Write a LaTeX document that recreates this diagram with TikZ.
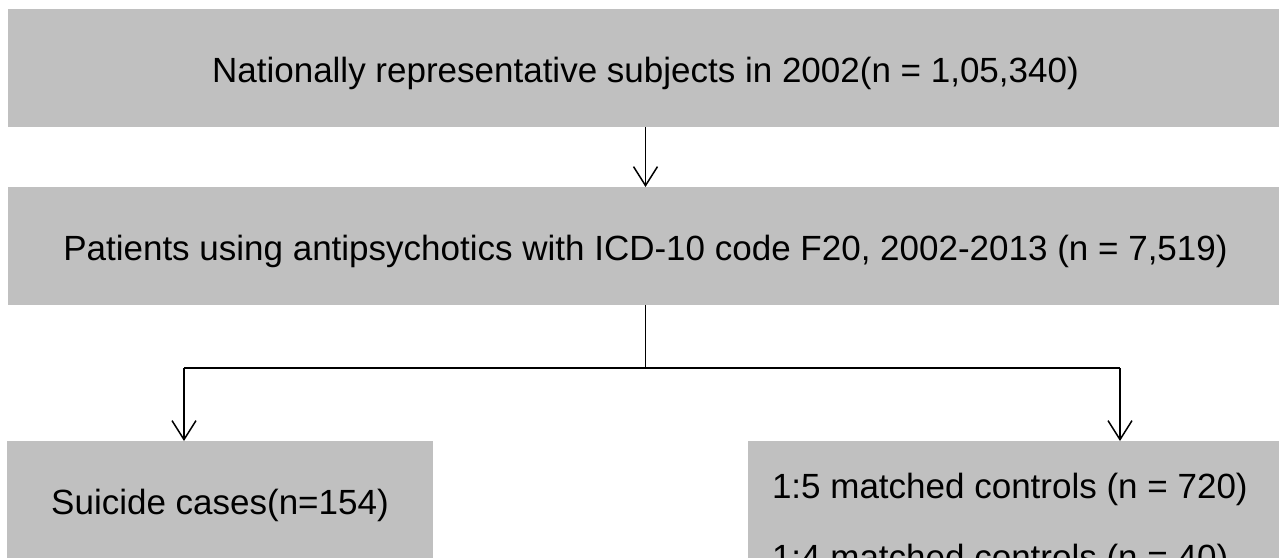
\documentclass[tikz,border=0pt]{standalone}
\usepackage{fontspec}
\setmainfont{Liberation Sans}
\usepackage{xcolor}
\usepackage{tikz}
\usetikzlibrary{arrows.meta,positioning}

\definecolor{boxgray}{RGB}{192,192,192}

\begin{document}
\begin{tikzpicture}[x=1pt, y=-1pt, line width=1.5pt,
  >={Straight Barb[length=19pt,width=24pt]},
  stage/.style={fill=boxgray, outer sep=0pt, font=\fontsize{35}{64}\selectfont},
  stageline/.style={stage, minimum height=118pt, text height=38.5pt, text depth=8.75pt}]
\useasboundingbox (0,0) rectangle (1279,557);

% cohort boxes
\node[stageline, minimum width=1275pt] (subjects) at (645.5,68) {Nationally representative subjects in 2002(n = 1,05,340)};
\node[stageline, minimum width=1275pt] (patients) at (645.5,246) {Patients using antipsychotics with ICD-10 code F20, 2002-2013 (n = 7,519)};

% split into cases and controls
\node[stageline, minimum width=426pt] (cases) at (220,500) {Suicide cases(n=154)};
\node[stage, anchor=north west, text width=495pt, align=flush left, inner xsep=24pt, inner ysep=32pt] (controls) at (748,441) {1:5 matched controls (n = 720)\\[7pt]1:4 matched controls (n = 40)};

\draw[->] (subjects.south) -- (patients.north);
\coordinate (split) at (645.5,368);
\coordinate (leftdrop) at (184,368);
\coordinate (rightdrop) at (1120,368);
\draw (patients.south) -- (split);
\draw (leftdrop) -- (rightdrop);
\draw[->] (leftdrop) -- (leftdrop |- cases.north);
\draw[->] (rightdrop) -- (rightdrop |- controls.north);
\end{tikzpicture}
\end{document}
